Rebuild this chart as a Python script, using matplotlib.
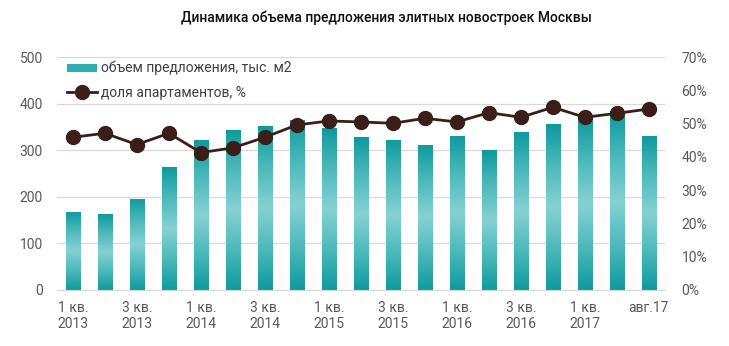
import matplotlib
matplotlib.use("Agg")
import matplotlib.pyplot as plt
import numpy as np
from matplotlib.colors import LinearSegmentedColormap
from matplotlib.lines import Line2D
from matplotlib.patches import Patch

plt.rcParams['font.family'] = ['Roboto', 'DejaVu Sans']

categories = ["1 кв.\n2013", "2 кв.\n2013", "3 кв.\n2013", "4 кв.\n2013",
              "1 кв.\n2014", "2 кв.\n2014", "3 кв.\n2014", "4 кв.\n2014",
              "1 кв.\n2015", "2 кв.\n2015", "3 кв.\n2015", "4 кв.\n2015",
              "1 кв.\n2016", "2 кв.\n2016", "3 кв.\n2016", "4 кв.\n2016",
              "1 кв.\n2017", "2 кв.\n2017", "авг.17"]
shown_labels = ["1 кв.\n2013", "", "3 кв.\n2013", "", "1 кв.\n2014", "", "3 кв.\n2014", "",
                "1 кв.\n2015", "", "3 кв.\n2015", "", "1 кв.\n2016", "", "3 кв.\n2016", "",
                "1 кв.\n2017", "", "авг.17"]
volume = [168, 163, 196, 264, 321, 344, 352, 365, 347, 328, 323, 312, 331, 300, 339, 356, 369, 378, 331]
share = [45.9, 47.1, 43.7, 47.1, 41.3, 42.7, 45.9, 49.6, 50.8, 50.5, 50.1, 51.6, 50.5, 53.3, 51.9, 54.9, 51.9, 53.1, 54.4]

fig = plt.figure(figsize=(7.29, 3.46), dpi=100)
ax = fig.add_axes([0.078, 0.162, 0.834, 0.673])
ax2 = ax.twinx()

x = np.arange(len(categories))
dark = "#0E9A9E"
light = "#86D1D4"
cmap = LinearSegmentedColormap.from_list("g", [dark, "#4DB9BC", light, "#4DB9BC", dark])
grad = np.linspace(0, 1, 256).reshape(-1, 1)

bars = ax.bar(x, volume, width=0.44, color=dark, zorder=2)
for b in bars:
    bx, by = b.get_x(), b.get_y()
    w, h = b.get_width(), b.get_height()
    im = ax.imshow(grad, cmap=cmap, aspect='auto', origin='lower',
                   extent=[bx, bx + w, by, by + h], zorder=2.1)
    im.set_clip_path(b)

ax.set_xlim(-0.5, len(categories) - 0.5)
ax.set_ylim(0, 500)
ax.set_yticks(np.arange(0, 501, 100))
ax.set_xticks(x)
ax.set_xticklabels(shown_labels)
ax.grid(axis='y', color='#D9D9D9', linewidth=0.9, zorder=0)
ax.set_axisbelow(True)

line_color = "#3A1E17"
ax2.plot(x, share, color=line_color, linewidth=2, marker='o', markersize=10, zorder=5)
ax2.set_ylim(0, 70)
ax2.set_yticks(np.arange(0, 71, 10))
ax2.set_yticklabels([f"{v}%" for v in range(0, 71, 10)])

for a in (ax, ax2):
    for s in a.spines.values():
        s.set_visible(False)
    a.tick_params(length=0, colors='#595959', labelsize=10)
ax.spines['bottom'].set_visible(True)
ax.spines['bottom'].set_color('#D9D9D9')
ax.tick_params(axis='x', pad=8)
ax.tick_params(axis='y', pad=10)
ax2.tick_params(axis='y', pad=12)

handles = [Patch(facecolor="#2EACAF", edgecolor='none'),
           Line2D([0], [0], color=line_color, linewidth=2, marker='o', markersize=10)]
leg = ax.legend(handles, ["объем предложения, тыс. м2", "доля апартаментов, %"],
                loc='upper left', bbox_to_anchor=(0.0, 1.025), frameon=False,
                fontsize=10, handlelength=2.2, handleheight=0.5, labelspacing=0.75,
                handletextpad=0.3, borderaxespad=0.3)
for t in leg.get_texts():
    t.set_color('#404040')
ax.set_zorder(ax2.get_zorder() - 1)
ax.patch.set_visible(False)
leg.remove()
ax2.add_artist(leg)

fig.text(0.53, 0.948, "Динамика объема предложения элитных новостроек Москвы",
         ha='center', va='center', fontsize=10, color='#111111', fontweight='medium')

fig.savefig("out.png", dpi=100)
